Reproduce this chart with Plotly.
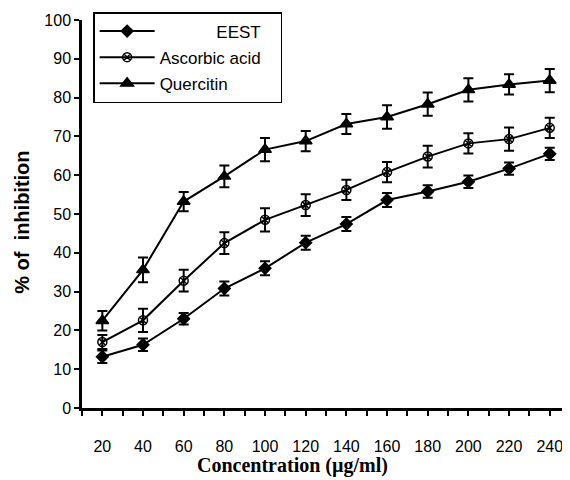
import plotly.graph_objects as go

conc = [20, 40, 60, 80, 100, 120, 140, 160, 180, 200, 220, 240]

eest = [13.2, 16.3, 23.0, 30.8, 36.0, 42.6, 47.4, 53.6, 55.8, 58.3, 61.7, 65.5]
eest_err = [1.6, 1.6, 1.5, 1.8, 1.8, 1.8, 1.8, 1.8, 1.6, 1.6, 1.6, 1.6]

asc = [17.0, 22.6, 32.8, 42.5, 48.5, 52.3, 56.2, 60.8, 64.8, 68.2, 69.3, 72.2]
asc_err = [1.8, 3.0, 2.8, 2.8, 3.0, 2.8, 2.6, 2.6, 2.8, 2.6, 3.0, 2.6]

quer = [22.5, 35.6, 53.2, 59.7, 66.6, 68.8, 73.2, 75.0, 78.3, 82.0, 83.4, 84.4]
quer_err = [2.5, 3.2, 2.5, 2.8, 3.0, 2.6, 2.6, 3.0, 3.0, 3.0, 2.6, 3.0]

names = ["\u00a0" * 12 + "EEST", "Ascorbic acid" + "\u00a0" * 3, "Quercitin"]
symbols = ["diamond", "circle-x-open", "triangle-up"]
sizes = [9, 9, 11]

fig = go.Figure()
for i, (ys, es) in enumerate([(eest, eest_err), (asc, asc_err), (quer, quer_err)]):
    fig.add_trace(go.Scatter(
        x=conc, y=ys, name=names[i], mode="lines+markers",
        legendgroup=f"g{i}",
        line=dict(color="black", width=2),
        marker=dict(symbol=symbols[i], size=sizes[i], color="black",
                    line=dict(color="black", width=1.5)),
        error_y=dict(type="data", array=es, visible=True, color="black",
                     thickness=2, width=5),
    ))

# page body has an 8px margin: figure sized so the plot lands where the reference has it
fig.update_layout(
    width=562, height=472,
    margin=dict(l=74, r=4, t=12, b=72, autoexpand=False),
    paper_bgcolor="white", plot_bgcolor="white",
    font=dict(family="Liberation Sans, Arial", color="black", size=16),
    showlegend=True,
    legend=dict(
        x=0.023, y=1.0206, xanchor="left", yanchor="top",
        bgcolor="white", bordercolor="black", borderwidth=1.5,
        font=dict(size=17, family="Liberation Sans, Arial"),
        traceorder="grouped", tracegroupgap=1, itemwidth=55,
    ),
    xaxis=dict(
        range=[10, 248], showgrid=False, zeroline=False, automargin=False,
        showline=True, linecolor="black", linewidth=2.5,
        tickmode="linear", tick0=20, dtick=20,
        ticks="outside", ticklen=5, tickwidth=1.5, tickcolor="black",
        ticklabelstandoff=17,
        minor=dict(dtick=10, tick0=10, ticks="outside", ticklen=5,
                   tickwidth=1.5, tickcolor="black"),
        tickfont=dict(size=16),
    ),
    yaxis=dict(
        range=[0, 100], showgrid=False, zeroline=False, automargin=False,
        showline=True, linecolor="black", linewidth=2.5,
        tickmode="linear", tick0=0, dtick=10,
        ticks="outside", ticklen=5, tickwidth=1.5, tickcolor="black",
        tickfont=dict(size=16),
    ),
    annotations=[
        dict(text="<b>% of  inhibition</b>", xref="paper", yref="paper",
             x=-0.124, y=0.48, xanchor="center", yanchor="middle",
             textangle=-90, showarrow=False,
             font=dict(size=20, family="Liberation Sans, Arial")),
        dict(text="<b>Concentration (µg/ml)</b>", xref="paper", yref="paper",
             x=0.434, y=-0.147, xanchor="center", yanchor="middle",
             showarrow=False,
             font=dict(size=20, family="Liberation Serif, Times New Roman")),
    ],
)

fig.write_html("out.html")
